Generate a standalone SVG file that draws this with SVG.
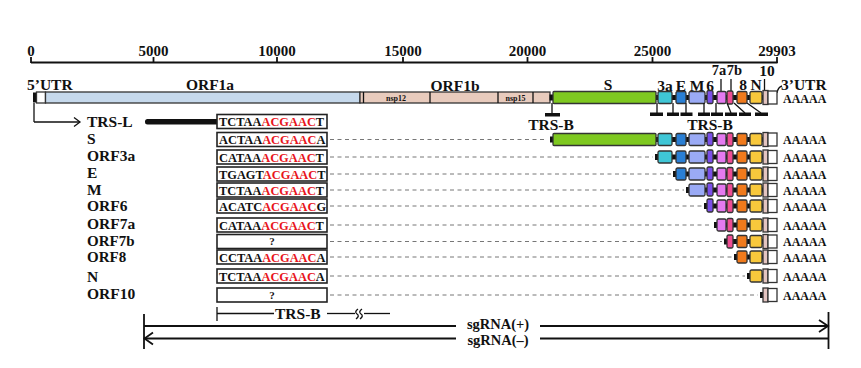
<svg xmlns="http://www.w3.org/2000/svg" xmlns:xlink="http://www.w3.org/1999/xlink" width="861" height="368" viewBox="0 0 861 368">
<style>
.t{font-family:"Liberation Serif","Times New Roman",serif;font-weight:bold;fill:#111}
.ax{font-size:15px;text-anchor:middle}
.lbl{font-size:15.5px}
.seq{font-size:12.4px}
.red{fill:#e8141c}
.pa{font-size:12px}
.sm{font-size:8px;text-anchor:middle}
.g{stroke:#333;stroke-width:1.3}
.cn{fill:#111}
.box{fill:#fff;stroke:#222;stroke-width:1.6}
.dash{stroke:#777;stroke-width:1;stroke-dasharray:4 3.5;fill:none}
.ln{stroke:#111;stroke-width:1.8;fill:none}
.thin{stroke:#111;stroke-width:1.3;fill:none}
</style>
<defs>
<g id="t10"><rect class="g" x="763" y="-7" width="5" height="14" fill="#e3c4c0"/><rect class="g" x="768" y="-6.5" width="9" height="13" fill="#fff"/></g>
<g id="tN"><rect class="cn" x="761" y="-2.5" width="3" height="5"/><rect class="g" x="750" y="-6" width="12" height="12" rx="1.5" fill="#f8c83c"/><use href="#t10"/></g>
<g id="t8"><rect class="cn" x="746" y="-2.5" width="5" height="5"/><rect class="g" x="737" y="-6" width="10" height="12" rx="1.5" fill="#f07a1c"/><use href="#tN"/></g>
<g id="t7b"><rect class="cn" x="732" y="-2.5" width="6" height="5"/><rect class="g" x="727" y="-6.5" width="6" height="13" rx="1.5" fill="#ee4d92"/><use href="#t8"/></g>
<g id="t7a"><rect class="cn" x="725" y="-2.5" width="3" height="5"/><rect class="g" x="717" y="-6" width="9" height="12" rx="1.5" fill="#e47af0"/><use href="#t7b"/></g>
<g id="t6"><rect class="cn" x="712" y="-2.5" width="6" height="5"/><rect class="g" x="707" y="-7" width="6" height="13" rx="1.5" fill="#7b4fe8"/><use href="#t7a"/></g>
<g id="tM"><rect class="cn" x="704" y="-2.5" width="4" height="5"/><rect class="g" x="689" y="-6" width="16" height="12" rx="1.5" fill="#9aaaf5"/><use href="#t6"/></g>
<g id="tE"><rect class="cn" x="685" y="-2.5" width="5" height="5"/><rect class="g" x="676" y="-6" width="10" height="12" rx="1.5" fill="#2a7fd4"/><use href="#tM"/></g>
<g id="t3a"><rect class="cn" x="671" y="-2.5" width="6" height="5"/><rect class="g" x="658" y="-6" width="14" height="12" rx="1.5" fill="#3fc6d6"/><use href="#tE"/></g>
<g id="tS"><rect class="cn" x="655" y="-2.5" width="4" height="5"/><rect class="g" x="553" y="-6" width="103" height="12" rx="1" fill="#7ec820"/><use href="#t3a"/></g>
</defs>

<g id="axis">
<line class="ln" x1="31" y1="62.5" x2="777.5" y2="62.5"/>
<g class="ln" stroke-width="1.5">
<line x1="31" y1="57" x2="31" y2="63"/><line x1="153.5" y1="57" x2="153.5" y2="63"/><line x1="277" y1="57" x2="277" y2="63"/><line x1="403" y1="57" x2="403" y2="63"/><line x1="527.5" y1="57" x2="527.5" y2="63"/><line x1="652.5" y1="57" x2="652.5" y2="63"/><line x1="777" y1="57" x2="777" y2="63"/>
</g>
<text class="t ax" x="31" y="56">0</text>
<text class="t ax" x="153.5" y="56">5000</text>
<text class="t ax" x="277" y="56">10000</text>
<text class="t ax" x="403" y="56">15000</text>
<text class="t ax" x="527.5" y="56">20000</text>
<text class="t ax" x="652.5" y="56">25000</text>
<text class="t ax" x="777" y="56">29903</text>
</g>

<g id="genome">
<text class="t lbl" x="27" y="90">5’UTR</text>
<text class="t lbl" x="210" y="90" text-anchor="middle">ORF1a</text>
<text class="t lbl" x="455" y="91" text-anchor="middle">ORF1b</text>
<text class="t lbl" x="608" y="90" text-anchor="middle">S</text>
<text class="t lbl" x="665" y="91" text-anchor="middle">3a</text>
<text class="t lbl" x="681" y="91" text-anchor="middle">E</text>
<text class="t lbl" x="697" y="91" text-anchor="middle">M</text>
<text class="t lbl" x="710" y="91" text-anchor="middle">6</text>
<text class="t" font-size="14.5" x="719" y="75" text-anchor="middle">7a</text>
<text class="t" font-size="14.5" x="734.5" y="75" text-anchor="middle">7b</text>
<text class="t lbl" x="743" y="90" text-anchor="middle">8</text>
<text class="t lbl" x="756" y="90" text-anchor="middle">N</text>
<text class="t lbl" x="767" y="76" text-anchor="middle">10</text>
<text class="t lbl" x="781" y="90">3’UTR</text>
<line class="thin" x1="721" y1="79" x2="721" y2="92"/>
<line class="thin" x1="731" y1="79" x2="731" y2="92"/>
<line class="thin" x1="764.5" y1="79" x2="764.5" y2="91"/>
<path class="thin" d="M777,93 Q778,87 782,86"/>
<rect x="33" y="92.5" width="4" height="10" fill="#111"/>
<rect class="g" x="36.5" y="92" width="9" height="11" fill="#fff"/>
<rect class="g" x="45.5" y="92" width="314.5" height="11" fill="#c6d9ec"/>
<rect class="g" x="360" y="92" width="190" height="11" fill="#e8cbbd"/>
<line class="thin" x1="363.5" y1="92" x2="363.5" y2="103"/>
<line class="thin" x1="430" y1="92" x2="430" y2="103"/>
<line class="thin" x1="498" y1="92" x2="498" y2="103"/>
<line class="thin" x1="533" y1="92" x2="533" y2="103"/>
<text class="t sm" x="396" y="100.5">nsp12</text>
<text class="t sm" x="515.5" y="100.5">nsp15</text>
<rect class="cn" x="549.5" y="94.5" width="4.5" height="6"/>
<use href="#tS" transform="translate(0,97.5)"/>
<text class="t pa" x="783" y="102.5">AAAAA</text>
</g>

<g id="trs-b-markers">
<line class="thin" x1="552" y1="103" x2="552" y2="114"/>
<rect x="545" y="113" width="15" height="3.5" fill="#111"/>
<g class="thin">
<line x1="657" y1="103" x2="657" y2="113"/>
<line x1="673" y1="103" x2="673" y2="113"/>
<line x1="686" y1="103" x2="686" y2="113"/>
<line x1="704" y1="103" x2="704" y2="113"/>
<line x1="716" y1="103" x2="716" y2="113"/>
<line x1="727" y1="103" x2="731" y2="113"/>
<line x1="734" y1="103" x2="745" y2="113"/>
<line x1="747" y1="103" x2="761" y2="113"/>
</g>
<g fill="#111">
<rect x="650" y="112.5" width="13" height="3.5"/>
<rect x="667" y="112.5" width="12" height="3.5"/>
<rect x="680.5" y="112.5" width="12" height="3.5"/>
<rect x="698" y="112.5" width="12" height="3.5"/>
<rect x="711" y="112.5" width="12" height="3.5"/>
<rect x="725" y="112.5" width="12" height="3.5"/>
<rect x="739" y="112.5" width="12" height="3.5"/>
<rect x="755" y="112.5" width="13" height="3.5"/>
</g>
<text class="t lbl" x="551" y="130" text-anchor="middle">TRS-B</text>
<text class="t lbl" x="710" y="130" text-anchor="middle">TRS-B</text>
</g>

<g id="row-TRS-L">
<text class="t lbl" x="87" y="127">TRS-L</text>
<rect x="145" y="119" width="74" height="5.5" rx="2.5" fill="#111"/>
<rect class="box" x="217" y="114.5" width="110" height="14"/>
<text class="t seq" x="219" y="126">TCTAA<tspan class="red">ACGAAC</tspan>T</text>
</g>

<g id="row-S">
<text class="t lbl" x="87" y="144">S</text>
<rect class="box" x="217" y="132.5" width="110" height="14"/>
<text class="t seq" x="219" y="144">ACTAA<tspan class="red">ACGAAC</tspan>A</text>
<rect class="cn" x="550" y="136.5" width="4" height="6"/>
<use href="#tS" transform="translate(0,139.5)"/>
<text class="t pa" x="783" y="144">AAAAA</text>
</g>

<g id="row-ORF3a">
<text class="t lbl" x="87" y="161">ORF3a</text>
<rect class="box" x="217" y="150" width="110" height="14"/>
<text class="t seq" x="219" y="161.5">CATAA<tspan class="red">ACGAAC</tspan>T</text>
<rect class="cn" x="655" y="154" width="4" height="6"/>
<use href="#t3a" transform="translate(0,157)"/>
<text class="t pa" x="783" y="161.5">AAAAA</text>
</g>

<g id="row-E">
<text class="t lbl" x="87" y="178">E</text>
<rect class="box" x="217" y="167" width="110" height="14"/>
<text class="t seq" x="219" y="178.5">TGAGT<tspan class="red">ACGAAC</tspan>T</text>
<rect class="cn" x="673" y="171" width="4" height="6"/>
<use href="#tE" transform="translate(0,174)"/>
<text class="t pa" x="783" y="178.5">AAAAA</text>
</g>

<g id="row-M">
<text class="t lbl" x="87" y="195">M</text>
<rect class="box" x="217" y="183" width="110" height="14"/>
<text class="t seq" x="219" y="194.5">TCTAA<tspan class="red">ACGAAC</tspan>T</text>
<rect class="cn" x="686" y="187" width="4" height="6"/>
<use href="#tM" transform="translate(0,190)"/>
<text class="t pa" x="783" y="194.5">AAAAA</text>
</g>

<g id="row-ORF6">
<text class="t lbl" x="87" y="211">ORF6</text>
<rect class="box" x="217" y="199" width="110" height="14"/>
<text class="t seq" x="219" y="210.5">ACATC<tspan class="red">ACGAAC</tspan>G</text>
<rect class="cn" x="704" y="203" width="4" height="6"/>
<use href="#t6" transform="translate(0,206)"/>
<text class="t pa" x="783" y="210.5">AAAAA</text>
</g>

<g id="row-ORF7a">
<text class="t lbl" x="87" y="229">ORF7a</text>
<rect class="box" x="217" y="218" width="110" height="14"/>
<text class="t seq" x="219" y="229.5">CATAA<tspan class="red">ACGAAC</tspan>T</text>
<rect class="cn" x="714" y="222" width="4" height="6"/>
<use href="#t7a" transform="translate(0,225)"/>
<text class="t pa" x="783" y="229.5">AAAAA</text>
</g>

<g id="row-ORF7b">
<text class="t" font-size="15" x="87" y="246">ORF7b</text>
<rect class="box" x="217" y="234.5" width="110" height="14"/>
<text class="t" x="272" y="245" font-size="11" text-anchor="middle">?</text>
<rect class="cn" x="724" y="238.5" width="4" height="6"/>
<use href="#t7b" transform="translate(0,241.5)"/>
<text class="t pa" x="783" y="246">AAAAA</text>
</g>

<g id="row-ORF8">
<text class="t" font-size="15" x="87" y="262">ORF8</text>
<rect class="box" x="217" y="250" width="110" height="14"/>
<text class="t seq" x="219" y="261.5">CCTAA<tspan class="red">ACGAAC</tspan>A</text>
<rect class="cn" x="734" y="254" width="4" height="6"/>
<use href="#t8" transform="translate(0,257)"/>
<text class="t pa" x="783" y="261.5">AAAAA</text>
</g>

<g id="row-N">
<text class="t lbl" x="87" y="282">N</text>
<rect class="box" x="217" y="269" width="110" height="14"/>
<text class="t seq" x="219" y="280.5">TCTAA<tspan class="red">ACGAAC</tspan>A</text>
<rect class="cn" x="747" y="273" width="4" height="6"/>
<use href="#tN" transform="translate(0,276)"/>
<text class="t pa" x="783" y="280.5">AAAAA</text>
</g>

<g id="row-ORF10">
<text class="t lbl" x="87" y="299">ORF10</text>
<rect class="box" x="217" y="288" width="110" height="14"/>
<text class="t" x="272" y="298.5" font-size="11" text-anchor="middle">?</text>
<rect class="cn" x="760" y="292" width="4" height="6"/>
<use href="#t10" transform="translate(0,295)"/>
<text class="t pa" x="783" y="299.5">AAAAA</text>
</g>

<g id="scale">
<line class="thin" x1="217" y1="307" x2="217" y2="321"/>
<line class="thin" x1="217" y1="313.5" x2="274" y2="313.5"/>
<text class="t lbl" x="275" y="319">TRS-B</text>
<line class="thin" x1="327" y1="313.5" x2="355" y2="313.5"/>
<path class="thin" d="M358,309 Q354,312 357,314 Q360,316 356,319 M362,309 Q358,312 361,314 Q364,316 360,319"/>
<line class="thin" x1="364" y1="313.5" x2="390" y2="313.5"/>
<text class="t" font-size="14.5" x="498" y="329" text-anchor="middle">sgRNA(+)</text>
<text class="t" font-size="14.5" x="498" y="345" text-anchor="middle">sgRNA(–)</text>
</g>

<g id="connectors">
<line class="thin" x1="34" y1="103" x2="34" y2="122"/>
<line class="thin" x1="34" y1="122" x2="80" y2="122"/>
<path class="thin" d="M74,117.5 L80,122 L74,126.5"/>
<g class="dash">
<line x1="330" y1="139.5" x2="547" y2="139.5"/>
<line x1="330" y1="157" x2="653" y2="157"/>
<line x1="330" y1="174" x2="671" y2="174"/>
<line x1="330" y1="190" x2="684" y2="190"/>
<line x1="330" y1="206" x2="702" y2="206"/>
<line x1="330" y1="225" x2="712" y2="225"/>
<line x1="330" y1="241.5" x2="722" y2="241.5"/>
<line x1="330" y1="257" x2="732" y2="257"/>
<line x1="330" y1="276" x2="745" y2="276"/>
<line x1="330" y1="295" x2="758" y2="295"/>
</g>
<line class="ln" x1="144" y1="314" x2="144" y2="349"/>
<line class="ln" x1="828.5" y1="312" x2="828.5" y2="349"/>
<line class="ln" x1="144" y1="326" x2="456" y2="326"/>
<line class="ln" x1="540" y1="326" x2="828" y2="326"/>
<path class="ln" d="M819,320 L828,326 L819,332"/>
<line class="ln" x1="144" y1="338.5" x2="456" y2="338.5"/>
<line class="ln" x1="540" y1="338.5" x2="828" y2="338.5"/>
<path class="ln" d="M153,332.5 L144.5,338.5 L153,344.5"/>
</g>
</svg>
